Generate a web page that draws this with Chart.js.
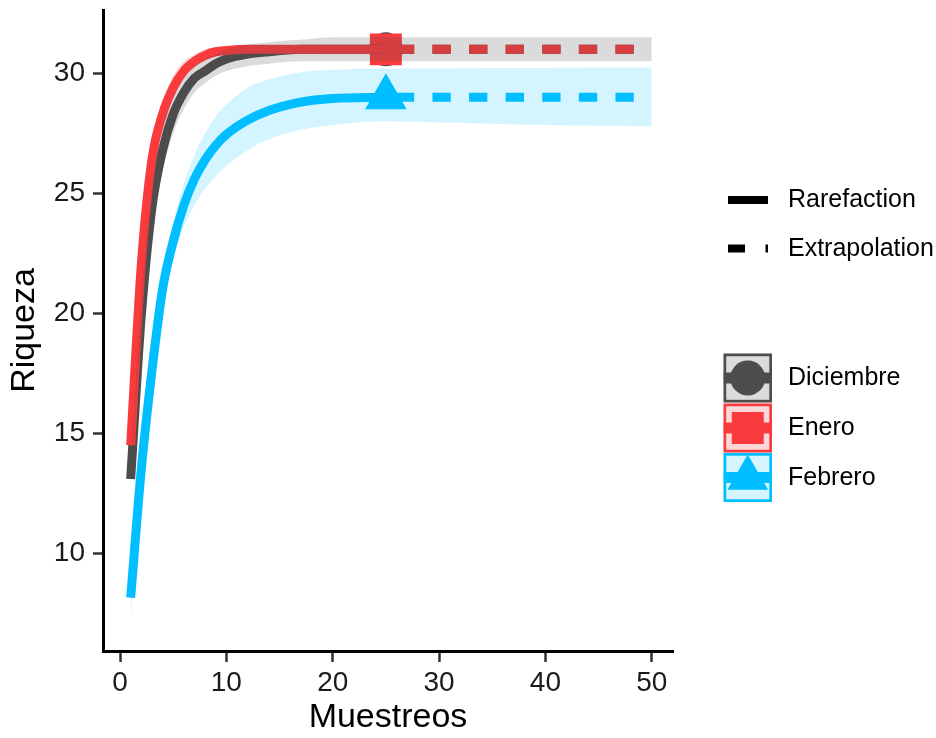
<!DOCTYPE html>
<html>
<head>
<meta charset="utf-8">
<script src="https://cdn.jsdelivr.net/npm/chart.js@4.4.0/dist/chart.umd.min.js"></script>
<style>
html,body{margin:0;padding:0;background:#fff;}
#wrap{width:936px;height:738px;position:relative;}
</style>
</head>
<body>
<div id="wrap"><canvas id="c" width="936" height="738"></canvas></div>
<script>
// ---------- data ----------
const sites = ['Diciembre', 'Enero', 'Febrero'];
const lineTypes = ['Rarefaction', 'Extrapolation'];
const xTicks = [0, 10, 20, 30, 40, 50];
const yTicks = [10, 15, 20, 25, 30];

const rareX  = [1, 2, 3, 4, 5, 6, 7, 8, 9, 10, 12, 14, 17, 20, 25];
const extraX = [25, 30, 35, 40, 45, 50];

const dicRare   = [13.1, 19.9, 24.4, 26.8, 28.3, 29.2, 29.8, 30.1, 30.4, 30.6, 30.8, 30.9, 31.0, 31.0, 31.0];
const dicRareLo = [12.7, 19.2, 23.6, 25.9, 27.5, 28.5, 29.2, 29.6, 29.9, 30.1, 30.3, 30.4, 30.5, 30.5, 30.5];
const dicRareHi = [13.5, 20.6, 25.2, 27.6, 29.0, 29.8, 30.3, 30.6, 30.8, 31.0, 31.2, 31.3, 31.4, 31.5, 31.5];
const dicExtra   = [31, 31, 31, 31, 31, 31];
const dicExtraLo = [30.5, 30.5, 30.5, 30.5, 30.5, 30.5];
const dicExtraHi = [31.5, 31.5, 31.5, 31.5, 31.5, 31.5];

const eneRare   = [14.5, 22.0, 26.4, 28.3, 29.4, 30.1, 30.5, 30.75, 30.9, 30.95, 31.0, 31.0, 31.0, 31.0, 31.0];
const eneRareLo = [14.1, 21.3, 25.8, 27.8, 29.0, 29.8, 30.25, 30.55, 30.75, 30.85, 30.92, 30.95, 30.97, 30.99, 31.0];
const eneRareHi = [14.9, 22.7, 27.0, 28.8, 29.9, 30.5, 30.8, 31.0, 31.1, 31.1, 31.08, 31.05, 31.03, 31.01, 31.0];
const eneExtra   = [31, 31, 31, 31, 31, 31];
const eneExtraLo = [31, 31, 31, 31, 31, 31];
const eneExtraHi = [31, 31, 31, 31, 31, 31];

const febRare   = [8.15, 13.5, 17.6, 21.0, 23.0, 24.5, 25.6, 26.4, 27.0, 27.45, 28.05, 28.45, 28.8, 28.95, 29.0];
const febRareLo = [7.2, 12.8, 16.9, 20.2, 22.2, 23.6, 24.5, 25.2, 25.7, 26.15, 26.8, 27.25, 27.65, 27.85, 28.0];
const febRareHi = [9.0, 14.2, 18.3, 21.8, 23.8, 25.4, 26.6, 27.5, 28.2, 28.7, 29.4, 29.75, 30.05, 30.15, 30.2];
const febExtra   = [29, 29, 29, 29, 29, 29];
const febExtraLo = [28.0, 27.95, 27.9, 27.85, 27.82, 27.8];
const febExtraHi = [30.2, 30.2, 30.22, 30.22, 30.24, 30.24];

const observedX = [25, 25, 25];
const observedY = [31, 31, 29];

// ---------- styles ----------
const lineColors = ['#4D4D4D', '#F93B3E', '#00BFFF'];
const bandColors = ['rgba(77,77,77,0.2)', 'rgba(249,59,62,0.2)', 'rgba(0,191,255,0.17)'];
const pointStyles = ['circle', 'rect', 'triangle'];
const pointRadii = [17, 22.6, 24];
const FONT = '"Liberation Sans", Arial, Helvetica, sans-serif';
Chart.defaults.font.family = FONT;

const pts = (xs, ys) => xs.map((x, i) => ({x: x, y: ys[i]}));

const series = [
  {rare: dicRare, lo: dicRareLo, hi: dicRareHi, ex: dicExtra, exLo: dicExtraLo, exHi: dicExtraHi},
  {rare: eneRare, lo: eneRareLo, hi: eneRareHi, ex: eneExtra, exLo: eneExtraLo, exHi: eneExtraHi},
  {rare: febRare, lo: febRareLo, hi: febRareHi, ex: febExtra, exLo: febExtraLo, exHi: febExtraHi}
];

const datasets = [];
// points (bottom)
series.forEach((s, i) => {
  datasets.push({
    label: sites[i] + ' obs',
    data: [{x: observedX[i], y: observedY[i]}],
    showLine: false,
    pointStyle: pointStyles[i],
    pointRadius: pointRadii[i],
    pointBackgroundColor: lineColors[i],
    pointBorderWidth: 0,
    pointHoverRadius: pointRadii[i]
  });
});
// lines
series.forEach((s, i) => {
  datasets.push({
    label: sites[i] + ' ' + lineTypes[0],
    data: pts(rareX, s.rare),
    borderColor: lineColors[i],
    borderWidth: 9,
    borderCapStyle: 'butt',
    borderJoinStyle: 'round',
    cubicInterpolationMode: 'monotone',
    pointRadius: 0,
    fill: false
  });
  datasets.push({
    label: sites[i] + ' ' + lineTypes[1],
    data: pts(extraX, s.ex),
    borderColor: lineColors[i],
    borderWidth: 9,
    borderCapStyle: 'butt',
    borderDash: [18.3, 18.3],
    borderDashOffset: 26.6,
    pointRadius: 0,
    fill: false
  });
});
// ribbons (top)
series.forEach((s, i) => {
  const loX = rareX.concat(extraX.slice(1));
  const loY = s.lo.concat(s.exLo.slice(1));
  const hiY = s.hi.concat(s.exHi.slice(1));
  const loIndex = datasets.length;
  datasets.push({
    label: sites[i] + ' lower',
    data: pts(loX, loY),
    borderWidth: 0,
    borderColor: 'rgba(0,0,0,0)',
    cubicInterpolationMode: 'monotone',
    pointRadius: 0,
    fill: false
  });
  datasets.push({
    label: sites[i] + ' upper',
    data: pts(loX, hiY),
    borderWidth: 0,
    borderColor: 'rgba(0,0,0,0)',
    backgroundColor: bandColors[i],
    cubicInterpolationMode: 'monotone',
    pointRadius: 0,
    fill: loIndex
  });
});
const N = datasets.length;
datasets.forEach((d, i) => { d.order = N - i; });

// ---------- legend ----------
const legendPlugin = {
  id: 'customLegend',
  afterDraw(chart) {
    const ctx = chart.ctx;
    ctx.save();
    ctx.font = '25px ' + FONT;
    ctx.fillStyle = '#000';
    ctx.textAlign = 'left';
    ctx.textBaseline = 'middle';
    const seg = (x1, y1, x2, y2) => { ctx.beginPath(); ctx.moveTo(x1, y1); ctx.lineTo(x2, y2); ctx.stroke(); };
    // linetype legend
    ctx.strokeStyle = '#000';
    ctx.lineCap = 'butt';
    ctx.lineWidth = 8;
    seg(728, 200, 768, 200);
    seg(728, 248.5, 745, 248.5);
    seg(765.5, 248.5, 768, 248.5);
    ctx.fillText(lineTypes[0], 788, 200.5);
    ctx.fillText(lineTypes[1], 788, 249.5);
    // site legend
    const boxTop = [353.5, 403.5, 453];
    const bx = 723.5, bw = 48.5, bh = 49;
    sites.forEach((name, i) => {
      const top = boxTop[i];
      const cx = bx + bw / 2, cy = top + bh / 2;
      ctx.save();
      ctx.beginPath();
      ctx.rect(bx, top, bw, bh);
      ctx.clip();
      ctx.fillStyle = '#fff';
      ctx.fillRect(bx, top, bw, bh);
      // marker
      ctx.fillStyle = lineColors[i];
      ctx.beginPath();
      if (pointStyles[i] === 'circle') {
        ctx.arc(cx, cy, 17.5, 0, Math.PI * 2);
      } else if (pointStyles[i] === 'rect') {
        ctx.rect(cx - 16, cy - 16, 32, 32);
      } else {
        const r = 23.5, tcy = cy + 0.5;
        ctx.moveTo(cx, tcy - r);
        ctx.lineTo(cx + r * Math.sqrt(3) / 2, tcy + r / 2);
        ctx.lineTo(cx - r * Math.sqrt(3) / 2, tcy + r / 2);
        ctx.closePath();
      }
      ctx.fill();
      // line
      ctx.strokeStyle = lineColors[i];
      ctx.lineWidth = 11;
      seg(bx, cy, bx + bw, cy);
      // ribbon overlay
      ctx.fillStyle = bandColors[i];
      ctx.fillRect(bx, top, bw, bh);
      ctx.restore();
      // border
      ctx.strokeStyle = lineColors[i];
      ctx.lineWidth = 2.7;
      ctx.strokeRect(bx + 1.35, top + 1.35, bw - 2.7, bh - 2.7);
      ctx.fillStyle = '#000';
      ctx.fillText(name, 788, cy + 0.5);
    });
    ctx.restore();
  }
};

new Chart(document.getElementById('c'), {
  type: 'line',
  data: {datasets: datasets},
  plugins: [legendPlugin],
  options: {
    responsive: false,
    animation: false,
    devicePixelRatio: 1,
    events: [],
    layout: {autoPadding: false, padding: {left: 0, right: 263, top: 10, bottom: 0}},
    plugins: {
      legend: {display: false},
      tooltip: {enabled: false},
      filler: {drawTime: 'beforeDatasetDraw', propagate: false}
    },
    scales: {
      x: {
        type: 'linear',
        min: -1.6,
        max: 52,
        afterBuildTicks: s => { s.ticks = xTicks.map(v => ({value: v})); },
        afterFit: s => { s.height = 87; s.paddingLeft = 0; s.paddingRight = 0; },
        grid: {display: true, drawOnChartArea: false, drawTicks: true, tickLength: 11, tickColor: '#333', tickWidth: 2.5},
        border: {display: true, color: '#000', width: 3},
        ticks: {font: {size: 28}, color: '#1a1a1a', padding: 4, maxRotation: 0, autoSkip: false},
        title: {display: true, text: 'Muestreos', font: {size: 34}, color: '#000', padding: {top: 0, bottom: 0}}
      },
      y: {
        type: 'linear',
        min: 5.93,
        max: 32.64,
        afterBuildTicks: s => { s.ticks = yTicks.map(v => ({value: v})); },
        afterFit: s => { s.width = 103; s.paddingTop = 0; s.paddingBottom = 0; },
        grid: {display: true, drawOnChartArea: false, drawTicks: true, tickLength: 10, tickColor: '#333', tickWidth: 2.5},
        border: {display: true, color: '#000', width: 3},
        ticks: {font: {size: 28}, color: '#1a1a1a', padding: 8, autoSkip: false},
        title: {display: true, text: 'Riqueza', font: {size: 34}, color: '#000', padding: {top: 4, bottom: 0}}
      }
    }
  }
});
</script>
</body>
</html>
